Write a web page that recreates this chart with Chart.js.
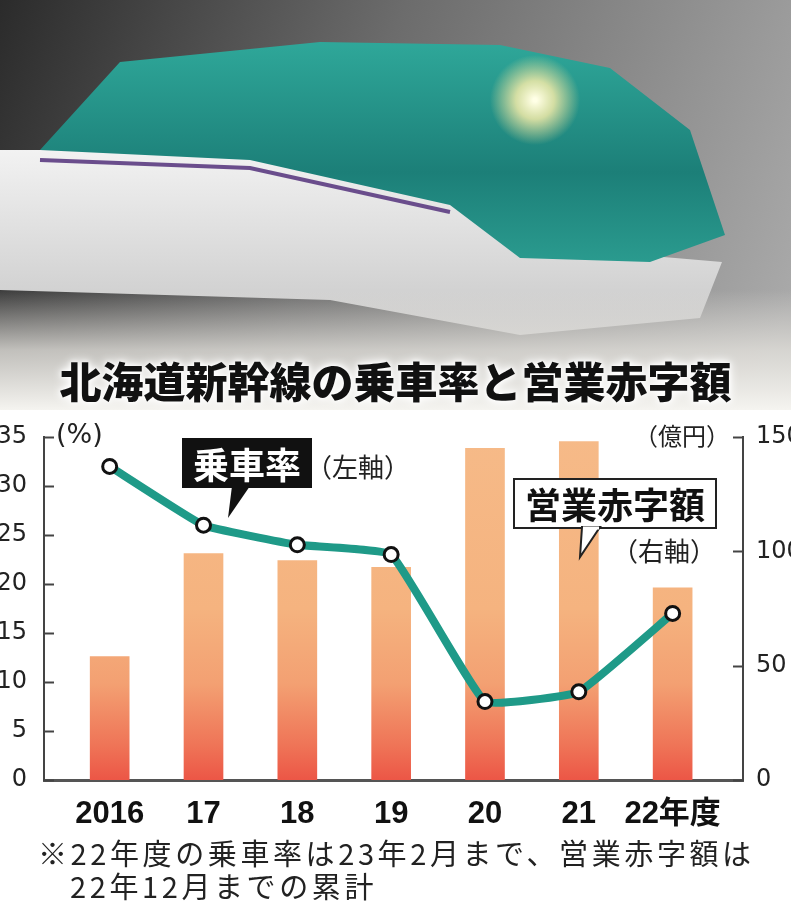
<!DOCTYPE html>
<html lang="ja">
<head>
<meta charset="utf-8">
<script src="https://cdn.jsdelivr.net/npm/chart.js@4"></script>
<style>
  body { margin: 0; width: 791px; height: 906px; position: relative; overflow: hidden; background: #fff; font-family: "Noto Sans CJK JP", sans-serif; }
  .abs { position: absolute; white-space: nowrap; }
  #title { left: 0; width: 791px; top: 356px; text-align: center; font-size: 42px; font-weight: 900; line-height: 48px; color: #111;
           text-shadow: 0 0 4px #fff, 0 0 8px #fff, 0 0 12px #fff; }
  #wrap { left: 0; top: 410px; width: 791px; height: 430px; }
  .unit { color: #222; line-height: 30px; }
  .note { font-size: 29px; color: #222; letter-spacing: 3.6px; line-height: 34px; }
</style>
</head>
<body>
<canvas id="photo" class="abs" width="791" height="410" style="left:0;top:0"></canvas>
<div id="title" class="abs">北海道新幹線の乗車率と営業赤字額</div>
<div id="wrap" class="abs"><canvas id="chart"></canvas></div>

<svg class="abs" width="791" height="906" style="left:0;top:0;pointer-events:none">
  <!-- 乗車率 吹き出し -->
  <polygon points="232,486 250,486 228,518" fill="#111"/>
  <rect x="182" y="438" width="130" height="50" fill="#111"/>
  <!-- 営業赤字額 吹き出し -->
  <rect x="514" y="479" width="202" height="49" fill="#fff" stroke="#222" stroke-width="2"/>
  <polygon points="582,527 600,527 580,557" fill="#fff" stroke="#222" stroke-width="2"/>
  <line x1="583" y1="528" x2="599" y2="528" stroke="#fff" stroke-width="3"/>
</svg>
<div class="abs" style="left:182px;top:438px;width:130px;height:50px;line-height:50px;text-align:center;color:#fff;font-size:36px;font-weight:700">乗車率</div>
<div class="abs unit" style="left:306px;top:451px;font-size:26px">（左軸）</div>
<div class="abs" style="left:514px;top:479px;width:202px;height:49px;line-height:49px;text-align:center;color:#111;font-size:36px;font-weight:700">営業赤字額</div>
<div class="abs unit" style="left:612px;top:535px;font-size:26px">（右軸）</div>
<div class="abs unit" style="left:56px;top:419px;font-family:'DejaVu Sans';font-size:27px">(%)</div>
<div class="abs unit" style="left:634px;top:420px;font-size:24px">（億円）</div>

<div class="abs note" style="left:38px;top:835px">※22年度の乗車率は23年2月まで、営業赤字額は</div>
<div class="abs note" style="left:70px;top:868px">22年12月までの累計</div>

<script>
// 年度
const categories = ['2016', '17', '18', '19', '20', '21', '22年度'];
// 営業赤字額（億円・右軸）
const deficit = [54, 99, 96, 93, 145, 148, 84];
// 乗車率（%・左軸）
const rideRate = [32, 26, 24, 23, 8, 9, 17];
// 目盛り
const leftTicks = [0, 5, 10, 15, 20, 25, 30, 35];
const rightTicks = [0, 50, 100, 150];

// --- 背景の写真（新幹線）をざっくり描く ---
function drawPhoto() {
    const c = document.getElementById('photo').getContext('2d');
    let g = c.createLinearGradient(0, 0, 791, 300);
    g.addColorStop(0, '#2b2b2b');
    g.addColorStop(0.45, '#6c6c6c');
    g.addColorStop(1, '#a9a9a9');
    c.fillStyle = g;
    c.fillRect(0, 0, 791, 410);

    // 車体下部（白）
    g = c.createLinearGradient(0, 150, 0, 330);
    g.addColorStop(0, '#f2f2f2');
    g.addColorStop(1, '#c9c9c9');
    c.fillStyle = g;
    c.beginPath();
    c.moveTo(0, 150); c.lineTo(250, 150); c.lineTo(470, 200); c.lineTo(640, 255);
    c.lineTo(722, 262); c.lineTo(700, 318); c.lineTo(520, 335); c.lineTo(330, 300); c.lineTo(0, 290);
    c.closePath(); c.fill();

    // 車体上部（緑）
    g = c.createLinearGradient(0, 40, 0, 260);
    g.addColorStop(0, '#2fa89a');
    g.addColorStop(0.6, '#1c7f78');
    g.addColorStop(1, '#2a9a8e');
    c.fillStyle = g;
    c.beginPath();
    c.moveTo(120, 62); c.lineTo(320, 42); c.lineTo(500, 45); c.lineTo(610, 68);
    c.lineTo(690, 130); c.lineTo(725, 235); c.lineTo(650, 262); c.lineTo(520, 258);
    c.lineTo(450, 205); c.lineTo(250, 160); c.lineTo(40, 150);
    c.closePath(); c.fill();

    // 紫の帯
    c.strokeStyle = '#6a4d8c';
    c.lineWidth = 4;
    c.beginPath(); c.moveTo(40, 160); c.lineTo(250, 168); c.lineTo(450, 212); c.stroke();

    // ライト
    g = c.createRadialGradient(535, 100, 2, 535, 100, 45);
    g.addColorStop(0, 'rgba(255,255,230,1)');
    g.addColorStop(0.4, 'rgba(255,240,170,0.8)');
    g.addColorStop(1, 'rgba(255,230,150,0)');
    c.fillStyle = g;
    c.fillRect(480, 50, 110, 100);

    // 下側はホームで明るくなる
    g = c.createLinearGradient(0, 290, 0, 410);
    g.addColorStop(0, 'rgba(225,223,218,0)');
    g.addColorStop(0.5, 'rgba(225,223,218,0.8)');
    g.addColorStop(1, 'rgba(245,244,240,1)');
    c.fillStyle = g;
    c.fillRect(0, 290, 791, 120);
}
drawPhoto();

// --- 内向きの目盛り線 ---
const innerTicks = {
    id: 'innerTicks',
    afterDraw(chart) {
        const c = chart.ctx;
        c.save();
        c.strokeStyle = '#444';
        c.lineWidth = 2;
        ['yL', 'yR'].forEach(id => {
            const s = chart.scales[id];
            const x0 = id === 'yL' ? s.right : s.left;
            const dir = id === 'yL' ? 1 : -1;
            s.ticks.forEach(t => {
                const y = Math.round(s.getPixelForValue(t.value)) + 0.5;
                c.beginPath();
                c.moveTo(x0, y);
                c.lineTo(x0 + dir * 10, y);
                c.stroke();
            });
        });
        c.restore();
    }
};

function barFill(ctx) {
    const a = ctx.chart.chartArea;
    if (!a) return '#f6b784';
    const g = ctx.chart.ctx.createLinearGradient(0, a.bottom, 0, a.top);
    g.addColorStop(0, '#ec5646');
    g.addColorStop(0.1, '#ef7457');
    g.addColorStop(0.28, '#f3a072');
    g.addColorStop(0.5, '#f5b37f');
    g.addColorStop(1, '#f6ba88');
    return g;
}

const axisFont = { family: 'DejaVu Sans', size: 24 };

new Chart(document.getElementById('chart'), {
    data: {
        datasets: [
            {
                type: 'line',
                label: '乗車率',
                data: rideRate.map((v, i) => ({ x: i, y: v })),
                yAxisID: 'yL',
                borderColor: '#1f9a88',
                borderWidth: 8,
                tension: 0.1,
                pointRadius: 7,
                pointBorderWidth: 3,
                pointBackgroundColor: '#fff',
                pointBorderColor: '#111',
                order: 0
            },
            {
                type: 'bar',
                label: '営業赤字額',
                data: deficit.map((v, i) => ({ x: i, y: v })),
                yAxisID: 'yR',
                backgroundColor: barFill,
                barThickness: 39,
                order: 1
            }
        ]
    },
    options: {
        responsive: true,
        maintainAspectRatio: false,
        animation: false,
        layout: { padding: { top: 27, left: 0, right: 0, bottom: 0 } },
        plugins: { legend: { display: false }, tooltip: { enabled: false } },
        scales: {
            x: {
                type: 'linear',
                offset: false,
                min: -0.7,
                max: 6.75,
                afterBuildTicks: s => { s.ticks = categories.map((c, i) => ({ value: i })); },
                afterFit: s => { s.height = 60; },
                grid: { display: false, offset: false },
                border: { display: true, color: '#555', width: 3 },
                ticks: {
                    callback: v => categories[v],
                    padding: 8,
                    color: '#111',
                    maxRotation: 0,
                    autoSkip: false,
                    font: { family: '"Liberation Sans", "Noto Sans CJK JP", sans-serif', size: 31, weight: 'bold' }
                }
            },
            yL: {
                position: 'left',
                min: 0,
                max: 35,
                afterBuildTicks: s => { s.ticks = leftTicks.map(v => ({ value: v })); },
                afterFit: s => { s.width = 44; },
                grid: { display: false },
                border: { display: true, color: '#444', width: 2 },
                ticks: { padding: 9, color: '#222', font: axisFont }
            },
            yR: {
                position: 'right',
                min: 0,
                max: 150,
                afterBuildTicks: s => { s.ticks = rightTicks.map(v => ({ value: v })); },
                afterFit: s => { s.width = 48; },
                grid: { display: false },
                border: { display: true, color: '#444', width: 2 },
                ticks: { padding: 5, color: '#222', font: axisFont }
            }
        }
    },
    plugins: [innerTicks]
});
</script>
</body>
</html>
